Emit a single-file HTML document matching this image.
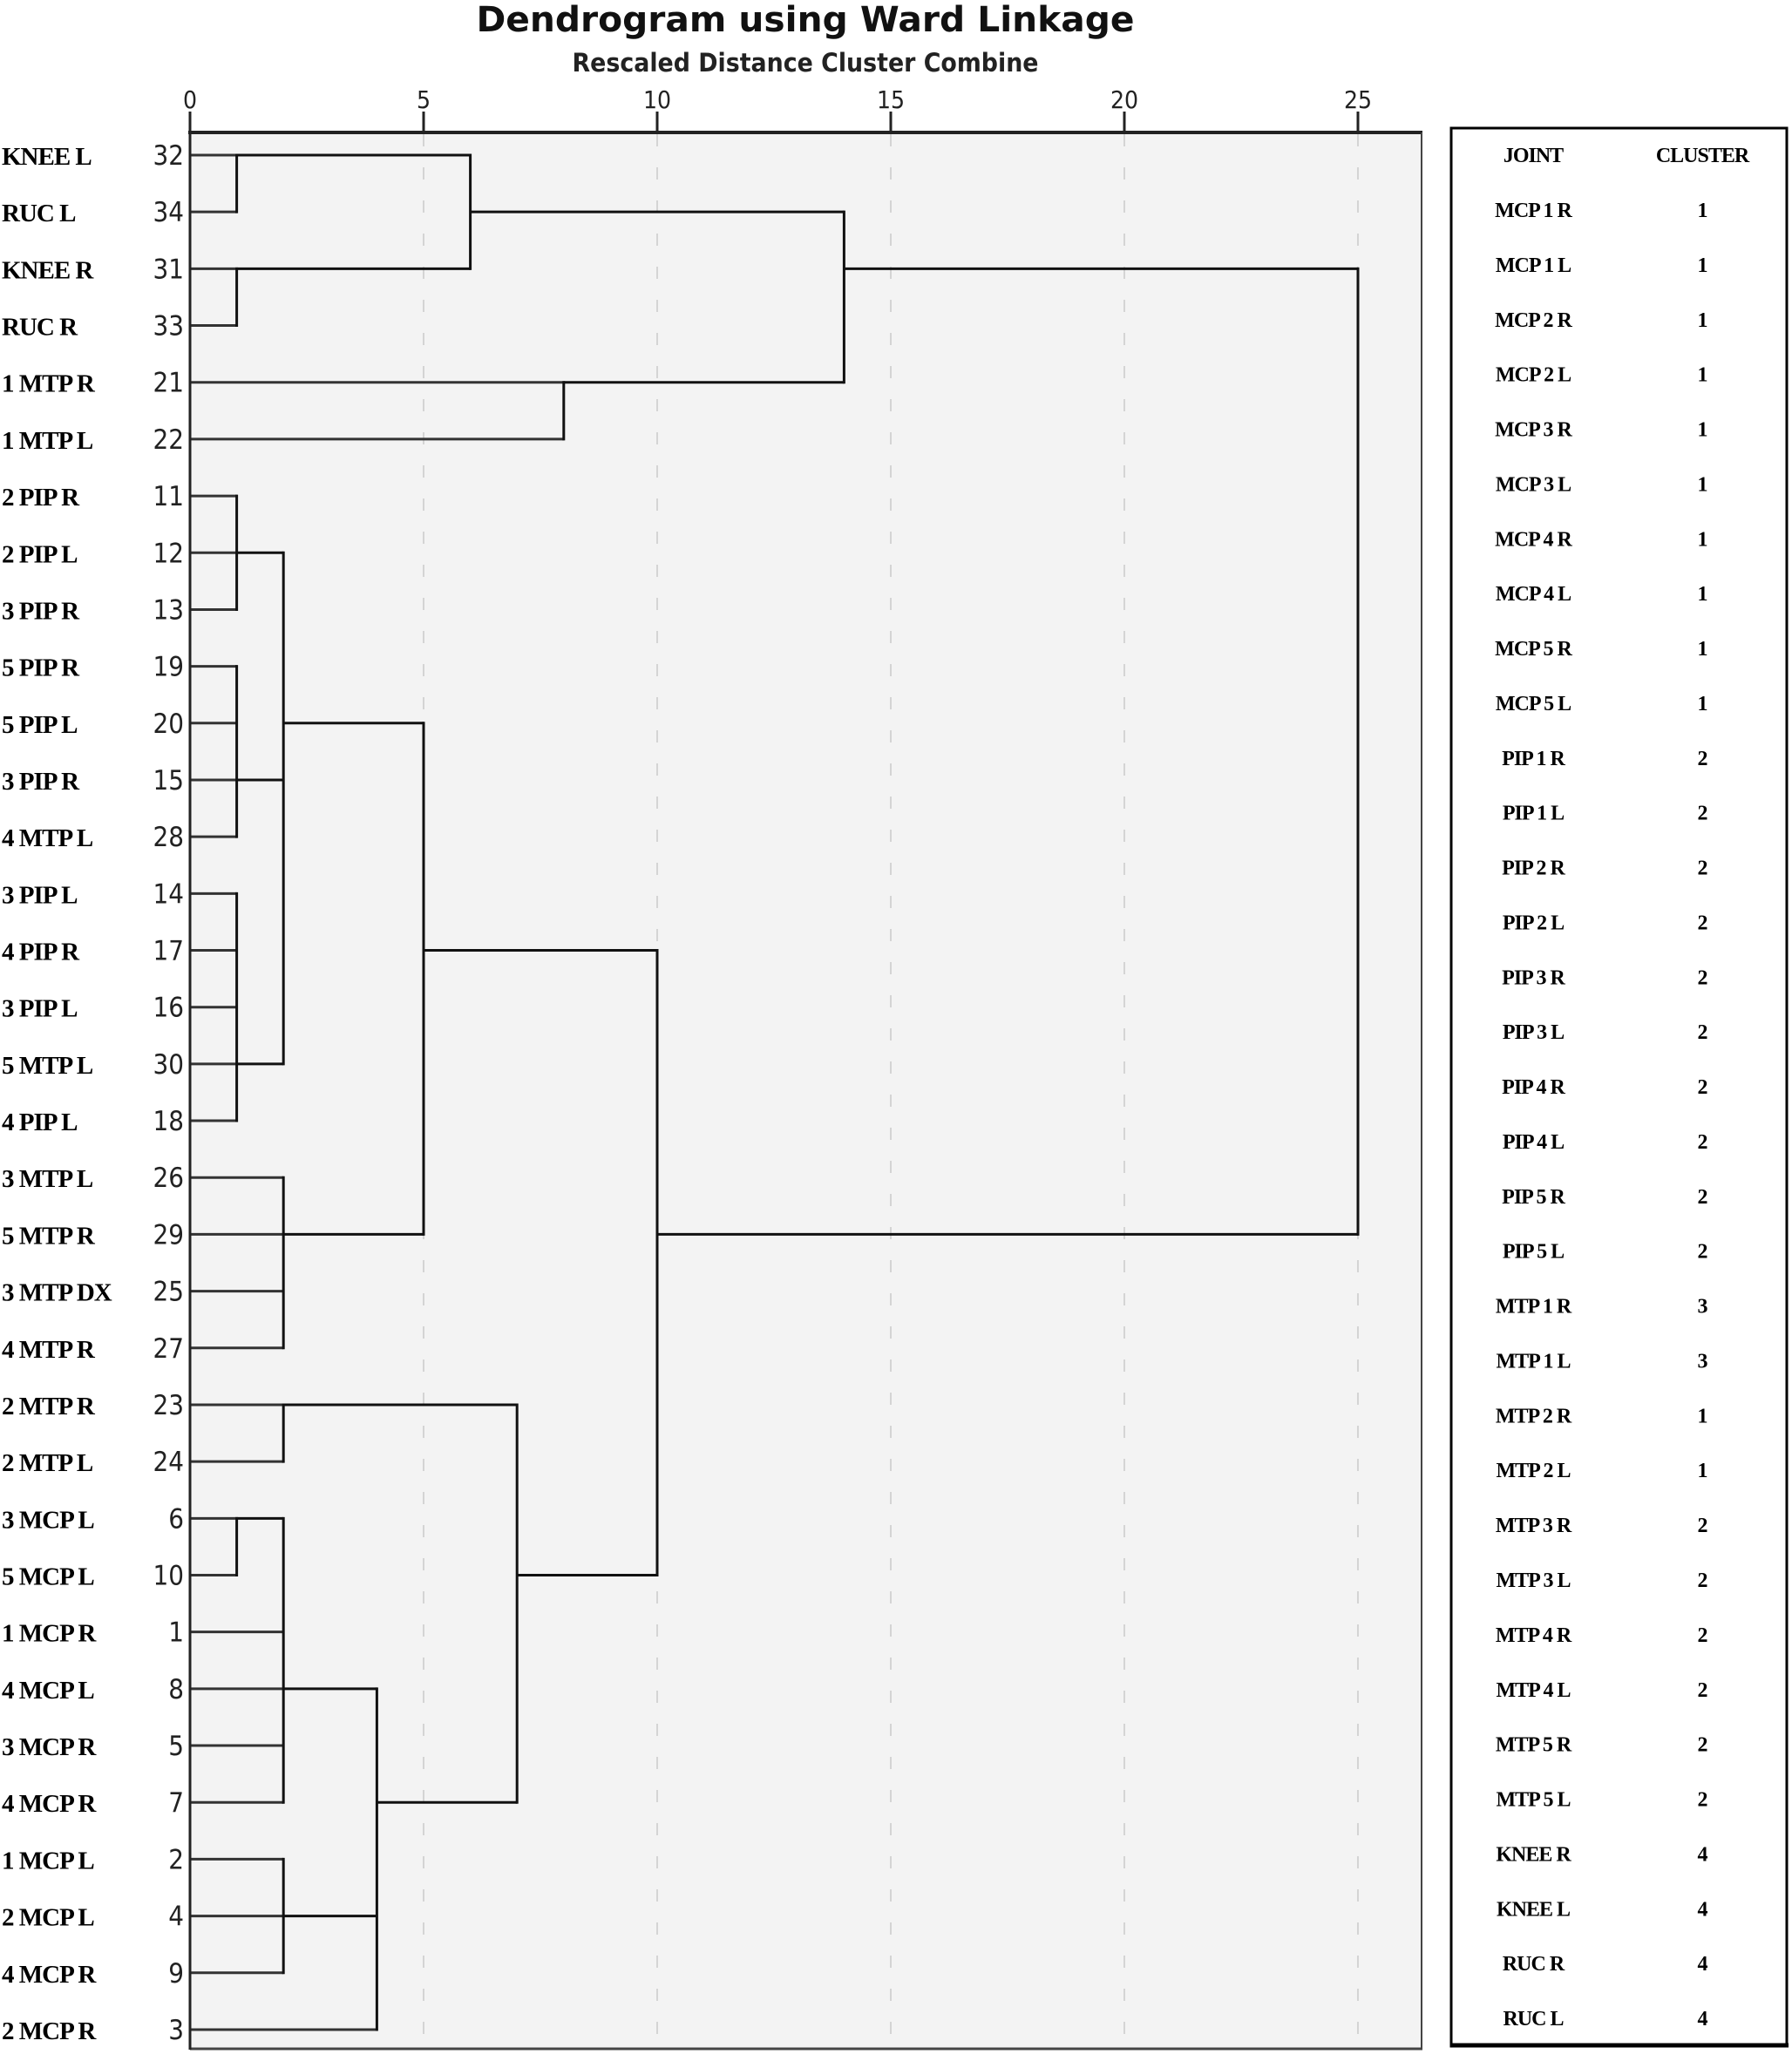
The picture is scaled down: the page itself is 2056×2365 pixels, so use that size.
<!DOCTYPE html>
<html><head><meta charset="utf-8"><style>
html,body{margin:0;padding:0;background:#fff;}
svg{display:block;}
.lbl{font-family:"Liberation Serif",serif;font-weight:bold;font-size:29px;fill:#000;letter-spacing:-1px;}
.num{font-family:"DejaVu Sans Condensed","DejaVu Sans",sans-serif;font-size:31px;fill:#222;}
.tick{font-family:"DejaVu Sans Condensed","DejaVu Sans",sans-serif;font-size:28px;fill:#222;}
.tb{font-family:"Liberation Serif",serif;font-weight:bold;font-size:24px;fill:#000;letter-spacing:-1px;}
</style></head><body>
<svg id="chart" width="2056" height="2365" viewBox="0 0 2056 2365" xmlns="http://www.w3.org/2000/svg">
<text x="924" y="36" text-anchor="middle" font-family="DejaVu Sans, sans-serif" font-weight="bold" font-size="40" textLength="755" lengthAdjust="spacingAndGlyphs" fill="#111">Dendrogram using Ward Linkage</text>
<text x="924" y="82" text-anchor="middle" font-family="DejaVu Sans, sans-serif" font-weight="bold" font-size="29" textLength="535" lengthAdjust="spacingAndGlyphs" fill="#222">Rescaled Distance Cluster Combine</text>
<rect x="218" y="152" width="1413" height="2199" fill="#f3f3f3"/>
<g id="grid"></g>
<g id="tree"></g>
<line x1="216" y1="152" x2="1632" y2="152" stroke="#222" stroke-width="4"/>
<line x1="1631" y1="152" x2="1631" y2="2352" stroke="#444" stroke-width="2"/>
<line x1="218" y1="2351" x2="1632" y2="2351" stroke="#444" stroke-width="3"/>
<line x1="218" y1="152" x2="218" y2="2352" stroke="#222" stroke-width="3"/>
<g id="labels"></g>
<rect x="1665" y="147" width="385" height="2201" fill="#fff" stroke="#000" stroke-width="3"/>
<line x1="1664" y1="2347" x2="2052" y2="2347" stroke="#000" stroke-width="5"/>
<g id="table"></g>
</svg>
<script>
// ---- data ----
const leafNames = ["KNEE L","RUC L","KNEE R","RUC R","1 MTP R","1 MTP L","2 PIP R","2 PIP L","3 PIP R","5 PIP R","5 PIP L","3 PIP R","4 MTP L","3 PIP L","4 PIP R","3 PIP L","5 MTP L","4 PIP L","3 MTP L","5 MTP R","3 MTP DX","4 MTP R","2 MTP R","2 MTP L","3 MCP L","5 MCP L","1 MCP R","4 MCP L","3 MCP R","4 MCP R","1 MCP L","2 MCP L","4 MCP R","2 MCP R"];
const leafIds = [32,34,31,33,21,22,11,12,13,19,20,15,28,14,17,16,30,18,26,29,25,27,23,24,6,10,1,8,5,7,2,4,9,3];
// merges: children ("L#" = leaf row, "N#" = merge index), height (rescaled distance), output row
const mergeChildren = [
  ["L0","L1"],["L2","L3"],["N0","N1"],["L4","L5"],["N2","N3"],
  ["L6","L7","L8"],["L9","L10","L11","L12"],["L13","L14","L15","L16","L17"],["N5","N6","N7"],
  ["L18","L19","L20","L21"],["N8","N9"],
  ["L22","L23"],["L24","L25"],["N12","L26","L27","L28","L29"],["L30","L31","L32"],
  ["N13","N14","L33"],["N11","N15"],["N10","N16"],["N4","N17"]
];
const mergeHeights = [1,1,6,8,14, 1,1,1,2, 2,5, 2,1,2,2, 4,7,10,25];
const mergeRows = [0,2,1,4,2, 7,11,16,10, 19,14, 22,24,27,31, 29,25,19,19];
const tickValues = [0,5,10,15,20,25];
const tickLabels = ["0","5","10","15","20","25"];
const tableJoints = ["MCP 1 R","MCP 1 L","MCP 2 R","MCP 2 L","MCP 3 R","MCP 3 L","MCP 4 R","MCP 4 L","MCP 5 R","MCP 5 L","PIP 1 R","PIP 1 L","PIP 2 R","PIP 2 L","PIP 3 R","PIP 3 L","PIP 4 R","PIP 4 L","PIP 5 R","PIP 5 L","MTP 1 R","MTP 1 L","MTP 2 R","MTP 2 L","MTP 3 R","MTP 3 L","MTP 4 R","MTP 4 L","MTP 5 R","MTP 5 L","KNEE R","KNEE L","RUC R","RUC L"];
const tableClusters = [1,1,1,1,1,1,1,1,1,1,2,2,2,2,2,2,2,2,2,2,3,3,1,1,2,2,2,2,2,2,4,4,4,4];

// ---- axes ----
const NS="http://www.w3.org/2000/svg";
const xScale = v => 218 + v*53.6;
const yRow = r => 178 + r*65.18;
function mk(tag, attrs, parent){const e=document.createElementNS(NS,tag);for(const k in attrs)e.setAttribute(k,attrs[k]);parent.appendChild(e);return e;}
const grid=document.getElementById('grid'), tree=document.getElementById('tree'), labels=document.getElementById('labels'), table=document.getElementById('table');
const svg=document.getElementById('chart');

tickValues.forEach((v,i)=>{
  const x=xScale(v);
  if(v>0){const g=mk('line',{x1:x,y1:154,x2:x,y2:2350,stroke:'#d4d4d4','stroke-width':2,'stroke-dasharray':'14 24'},grid);
  
  }
  const t=mk('line',{x1:x,y1:128,x2:x,y2:152,stroke:'#222','stroke-width':3},svg);
  
  
  const tl=mk('text',{x:x,y:124,'text-anchor':'middle',class:'tick'},svg);
  tl.textContent=tickLabels[i];
  
  
});

leafNames.forEach((n,i)=>{
  const y=yRow(i);
  const a=mk('text',{x:2,y:y+11,class:'lbl'},labels);a.textContent=n;
  
  
  const b=mk('text',{x:211,y:y+11,'text-anchor':'end',class:'num'},labels);b.textContent=leafIds[i];
  
  
});

// ---- tree ----
function childPos(c){
  if(c[0]==='L'){const r=+c.slice(1);return {x:0,row:r};}
  const m=+c.slice(1);return {x:mergeHeights[m],row:mergeRows[m]};
}
mergeChildren.forEach((ch,m)=>{
  const hx=xScale(mergeHeights[m]);
  const rows=[];
  ch.forEach(c=>{
    const p=childPos(c);rows.push(p.row);
    const l=mk('line',{x1:xScale(p.x),y1:yRow(p.row),x2:hx,y2:yRow(p.row),stroke:c[0]==='L'?'#333':'#111','stroke-width':3},tree);
    
    
  });
  const v=mk('line',{x1:hx,y1:yRow(Math.min(...rows))-1.5,x2:hx,y2:yRow(Math.max(...rows))+1.5,stroke:'#111','stroke-width':3},tree);
  
  
});

// ---- table ----
const th1=mk('text',{x:1759,y:186,'text-anchor':'middle',class:'tb'},table);th1.textContent='JOINT';


const th2=mk('text',{x:1953,y:186,'text-anchor':'middle',class:'tb'},table);th2.textContent='CLUSTER';


tableJoints.forEach((j,i)=>{
  const y=241+i*62.88+8;
  const a=mk('text',{x:1759,y:y,'text-anchor':'middle',class:'tb'},table);a.textContent=j;
  
  
  const b=mk('text',{x:1953,y:y,'text-anchor':'middle',class:'tb'},table);b.textContent=tableClusters[i];
  
  
});
</script>
</body></html>
